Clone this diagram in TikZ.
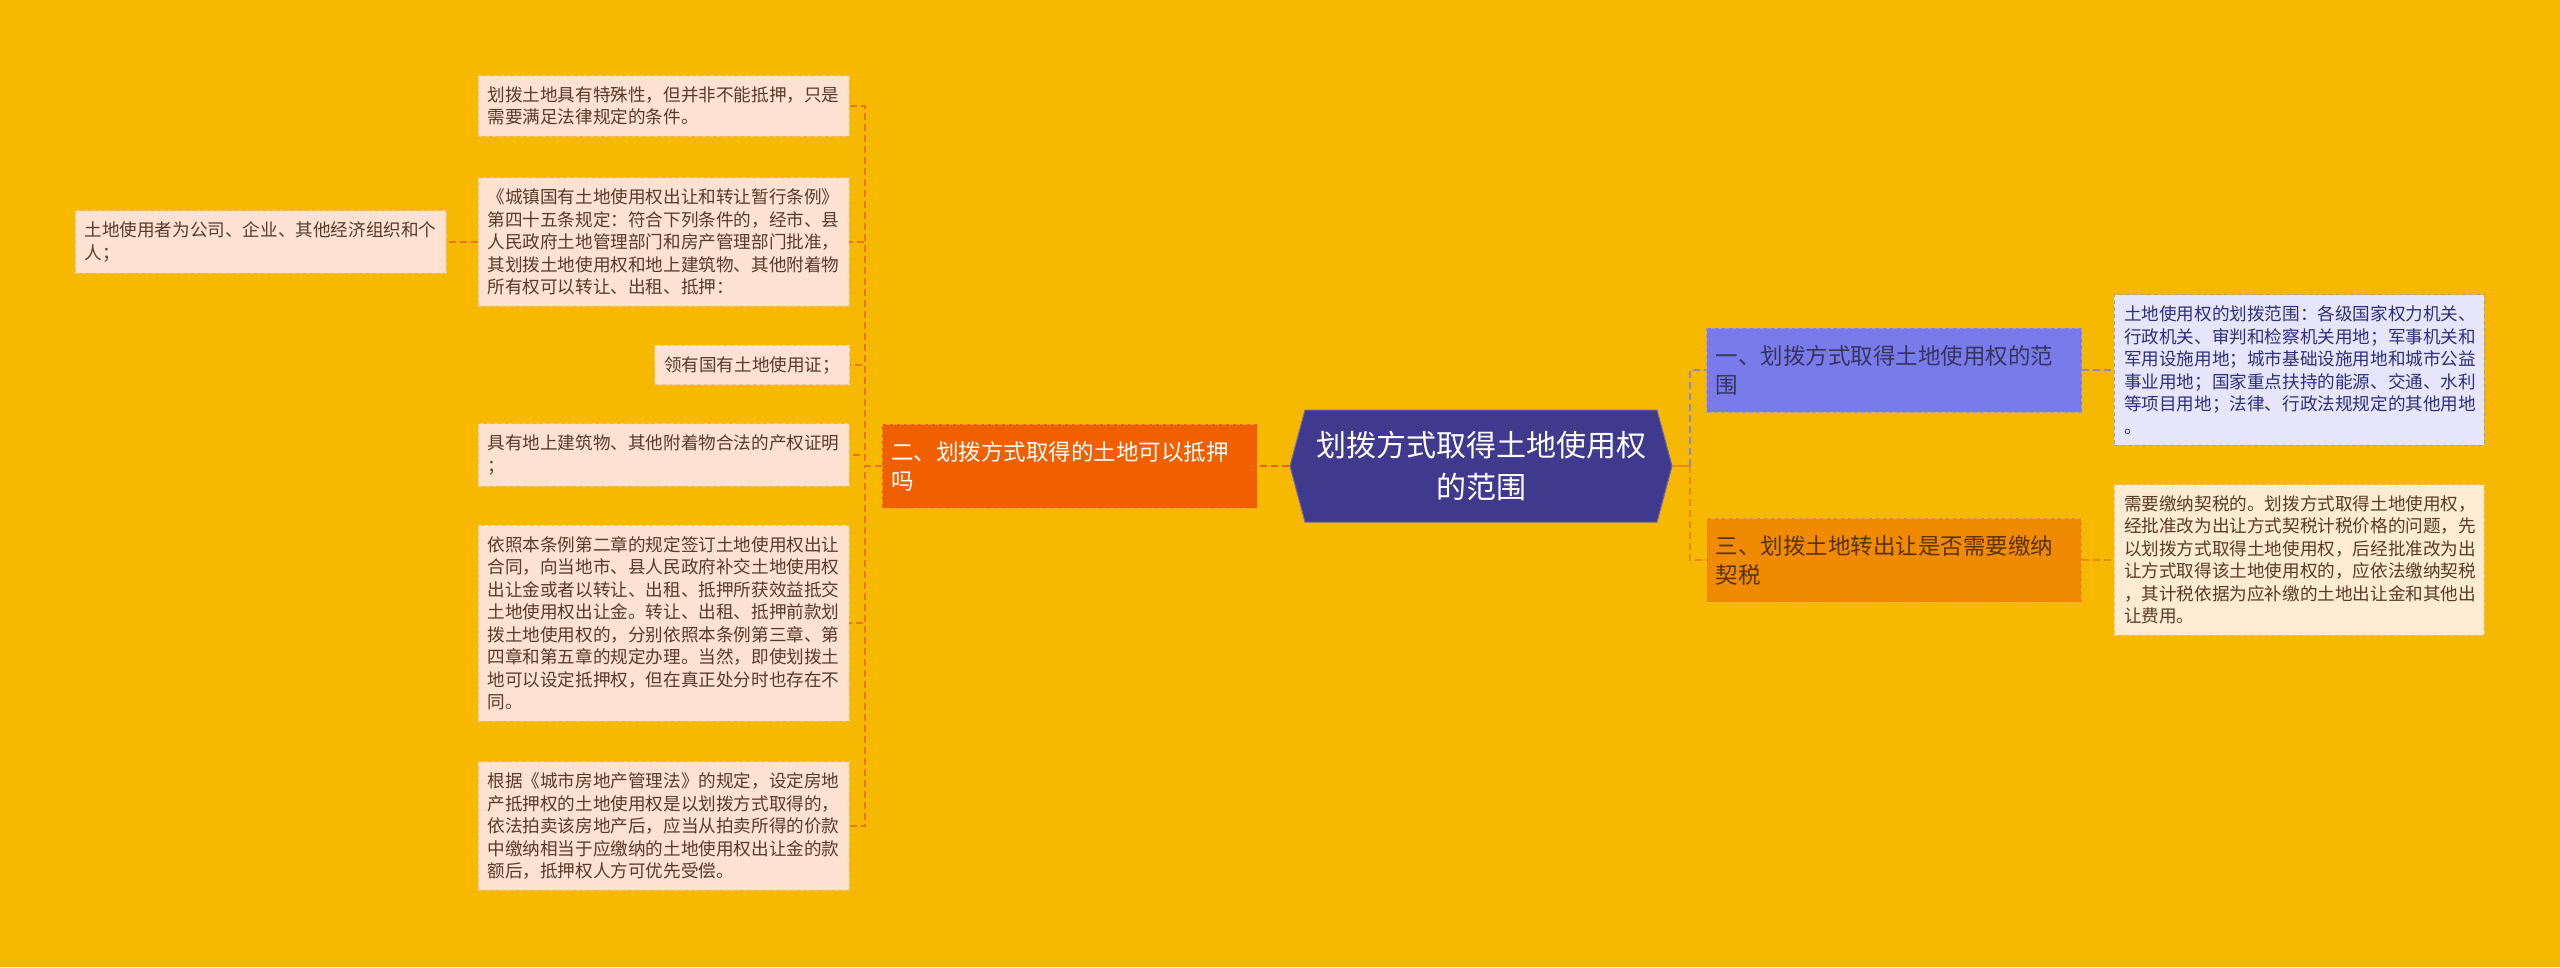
\documentclass[tikz,border=0pt]{standalone}
\usepackage{fontspec}
\setmainfont{Noto Sans CJK SC}
\usetikzlibrary{shapes.symbols}

\definecolor{bgyellow}{HTML}{F6B900}
\definecolor{rootfill}{HTML}{3F3A8E}
\definecolor{rootedge}{HTML}{6A66B8}
\definecolor{leaffill}{HTML}{FDE1D1}
\definecolor{leafedge}{HTML}{F2C285}
\definecolor{leaftext}{HTML}{5A3A28}
\definecolor{redfill}{HTML}{F05F00}
\definecolor{rededge}{HTML}{F59A4A}
\definecolor{bluefill}{HTML}{7A7BEB}
\definecolor{blueedge}{HTML}{9C9CC8}
\definecolor{bluetext}{HTML}{34345E}
\definecolor{orangefill}{HTML}{F08A00}
\definecolor{orangeedge}{HTML}{F5B050}
\definecolor{orangetext}{HTML}{5A3200}
\definecolor{lavfill}{HTML}{E6E6FA}
\definecolor{lavtext}{HTML}{2E2E7E}
\definecolor{creamfill}{HTML}{FDEBD2}
\definecolor{leftline}{HTML}{E8761C}
\definecolor{redline}{HTML}{E8620A}
\definecolor{blueline}{HTML}{8A8AC6}
\definecolor{orangeline}{HTML}{E88A10}

\begin{document}
\begin{tikzpicture}[
  x=1pt,
  y=-1pt,
  leftleaf/.style={draw=leafedge, fill=leaffill, text=leaftext, dash pattern=on 4pt off 3pt, line width=0.9pt,
    font=\fontsize{17.6}{22.5}\selectfont, align=left, inner xsep=9.5pt, inner ysep=11pt},
  rightleaf/.style={leftleaf, text width=350pt, inner xsep=10pt},
  branchbox/.style={dash pattern=on 4pt off 3pt, line width=0.9pt, font=\fontsize{22.5}{29}\selectfont,
    align=left, text width=357pt, inner xsep=9pt, minimum height=84pt},
  rootnode/.style={shape=signal, signal to=west and east, signal pointer angle=150, fill=rootfill, draw=rootedge,
    line width=1pt, text=white, font=\fontsize{30}{42}\selectfont, align=center, minimum width=382pt, minimum height=112pt},
  leftlink/.style={draw=leftline, line width=1.8pt, dash pattern=on 7pt off 4pt},
  redlink/.style={draw=redline, line width=2pt, dash pattern=on 7pt off 4pt},
  bluelink/.style={draw=blueline, line width=2pt, dash pattern=on 7pt off 4pt},
  orangelink/.style={draw=orangeline, line width=2pt, dash pattern=on 7pt off 4pt}
]
  \useasboundingbox[fill=bgyellow] (0,0) rectangle (2560,967);

  % centre
  \node[rootnode] (root) at (1481,466) {划拨方式取得土地使用权\\的范围};

  % branches
  \node[branchbox, fill=redfill, draw=rededge, text=white] (mid) at (1069.5,466)
    {二、划拨方式取得的土地可以抵押\\吗};
  \node[branchbox, fill=bluefill, draw=blueedge, text=bluetext] (ra) at (1894,370)
    {一、划拨方式取得土地使用权的范\\围};
  \node[branchbox, fill=orangefill, draw=orangeedge, text=orangetext] (rc) at (1894,560)
    {三、划拨土地转出让是否需要缴纳\\契税};

  % left leaves
  \node[leftleaf, text width=352pt] (la) at (663.5,106)
    {划拨土地具有特殊性，但并非不能抵押，只是\\需要满足法律规定的条件。};
  \node[leftleaf, text width=352pt] (lb) at (663.5,242)
    {《城镇国有土地使用权出让和转让暂行条例》\\第四十五条规定：符合下列条件的，经市、县\\人民政府土地管理部门和房产管理部门批准，\\其划拨土地使用权和地上建筑物、其他附着物\\所有权可以转让、出租、抵押：};
  \node[leftleaf, text width=352pt] (lz) at (260.5,242)
    {土地使用者为公司、企业、其他经济组织和个\\人；};
  \node[leftleaf, anchor=east] (lc) at (850,365) {领有国有土地使用证；};
  \node[leftleaf, text width=352pt] (ld) at (663.5,455)
    {具有地上建筑物、其他附着物合法的产权证明\\；};
  \node[leftleaf, text width=352pt] (le) at (663.5,623)
    {依照本条例第二章的规定签订土地使用权出让\\合同，向当地市、县人民政府补交土地使用权\\出让金或者以转让、出租、抵押所获效益抵交\\土地使用权出让金。转让、出租、抵押前款划\\拨土地使用权的，分别依照本条例第三章、第\\四章和第五章的规定办理。当然，即使划拨土\\地可以设定抵押权，但在真正处分时也存在不\\同。};
  \node[leftleaf, text width=352pt] (lf) at (663.5,826)
    {根据《城市房地产管理法》的规定，设定房地\\产抵押权的土地使用权是以划拨方式取得的，\\依法拍卖该房地产后，应当从拍卖所得的价款\\中缴纳相当于应缴纳的土地使用权出让金的款\\额后，抵押权人方可优先受偿。};

  % right leaves
  \node[rightleaf, fill=lavfill, text=lavtext, draw=blueedge] (rb) at (2299,370)
    {土地使用权的划拨范围：各级国家权力机关、\\行政机关、审判和检察机关用地；军事机关和\\军用设施用地；城市基础设施用地和城市公益\\事业用地；国家重点扶持的能源、交通、水利\\等项目用地；法律、行政法规规定的其他用地\\。};
  \node[rightleaf, fill=creamfill] (rd) at (2299,560)
    {需要缴纳契税的。划拨方式取得土地使用权，\\经批准改为出让方式契税计税价格的问题，先\\以划拨方式取得土地使用权，后经批准改为出\\让方式取得该土地使用权的，应依法缴纳契税\\，其计税依据为应补缴的土地出让金和其他出\\让费用。};

  % connectors
  \draw[redlink] (root.west) -- (mid.east);
  \foreach \n in {la,lb,lc,ld,le,lf} {
    \draw[leftlink] (mid.west) -- ++(-16.5,0) |- (\n.east);
  }
  \draw[leftlink] (lb.west) -- (lz.east);

  \path (root.east) ++(17,0) coordinate (fork);
  \draw[draw=orangeline, line width=2pt] (root.east) -- (fork);
  \draw[bluelink] (fork) |- (ra.west);
  \draw[orangelink] (fork) |- (rc.west);
  \draw[bluelink] (ra.east) -- (rb.west);
  \draw[orangelink] (rc.east) -- (rd.west);
\end{tikzpicture}
\end{document}
